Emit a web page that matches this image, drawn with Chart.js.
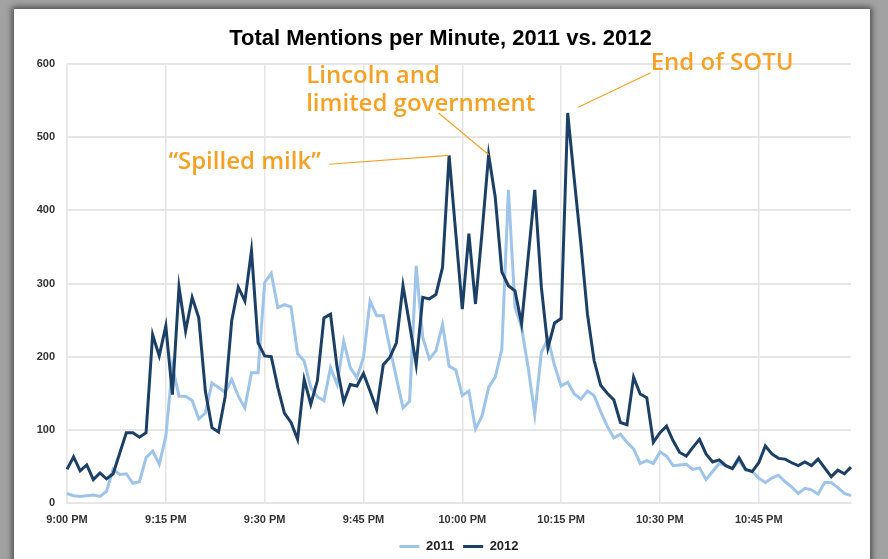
<!DOCTYPE html>
<html>
<head>
<meta charset="utf-8">
<script src="https://cdn.jsdelivr.net/npm/chart.js@4.4.1/dist/chart.umd.min.js"></script>
<style>
  html, body { margin: 0; padding: 0; width: 888px; height: 559px; overflow: hidden; background: #a2a2a2; }
  #card { position: absolute; left: 14px; top: 9px; width: 856px; height: 580px; background: #fff;
          box-shadow: 0 0 6px 2px rgba(0,0,0,0.55); }
  #wrap { position: absolute; left: 0; top: 0; width: 888px; height: 559px; }
</style>
</head>
<body>
<div id="card"></div>
<div id="wrap"><canvas id="chart" width="888" height="559"></canvas></div>
<script>
// Mentions per minute, 9:00 PM – 10:59 PM
const MENTIONS_2011 = [
  13, 10, 9, 10, 11, 9, 16, 46, 39, 40,
  27, 29, 62, 71, 53, 91, 187, 146, 146, 140,
  115, 123, 164, 158, 151, 169, 146, 130, 178, 178,
  301, 314, 267, 271, 268, 204, 194, 158, 145, 140,
  185, 162, 221, 185, 171, 199, 276, 256, 256, 212,
  171, 130, 139, 324, 226, 197, 208, 244, 187, 182,
  147, 153, 101, 119, 158, 172, 210, 428, 268, 240,
  185, 121, 206, 224, 188, 160, 165, 149, 142, 153,
  147, 125, 105, 89, 94, 83, 74, 54, 58, 54,
  70, 64, 51, 52, 53, 46, 48, 32, 43, 54,
  51, 47, 58, 45, 43, 34, 28, 34, 38, 29,
  22, 13, 20, 18, 12, 28, 28, 21, 13, 10
];
const MENTIONS_2012 = [
  46, 63, 44, 52, 32, 41, 33, 40, 68, 96,
  96, 90, 96, 230, 201, 242, 148, 295, 235, 281,
  253, 153, 103, 97, 145, 249, 295, 276, 345, 219,
  201, 200, 158, 123, 110, 87, 169, 135, 167, 253,
  258, 185, 138, 162, 160, 177, 153, 128, 189, 199,
  219, 297, 244, 189, 281, 279, 285, 322, 475, 370,
  265, 368, 272, 370, 476, 418, 316, 297, 290, 245,
  336, 428, 295, 212, 246, 252, 533, 442, 354, 258,
  195, 161, 150, 141, 110, 107, 172, 149, 144, 83,
  96, 105, 85, 69, 64, 76, 87, 67, 56, 59,
  51, 47, 62, 46, 43, 55, 78, 67, 61, 60,
  55, 51, 56, 51, 60, 48, 36, 45, 40, 49
];
const SERIES_NAMES = ['2011', '2012'];
const TICK_LABELS = ['9:00 PM', '9:15 PM', '9:30 PM', '9:45 PM', '10:00 PM', '10:15 PM', '10:30 PM', '10:45 PM'];
const Y_TICKS = [0, 100, 200, 300, 400, 500, 600];

// one category per minute
const MINUTES = MENTIONS_2012.map((_, m) => {
  const h = 9 + Math.floor(m / 60);
  const mm = String(m % 60).padStart(2, '0');
  return `${h}:${mm} PM`;
});

const COLOR_2011 = '#9ec4ea';
const COLOR_2012 = '#1c3f66';
const NOTE_COLOR = '#f6a124';
const GRID_COLOR = '#e6e6e6';

// callouts: text anchored in data units, leader from (fromX, fromY) to (toX, toY)
const NOTES = [
  { lines: ['\u201cSpilled milk\u201d'], textX: 15.4, textY: 466,
    fromX: 39.8, fromY: 463, toX: 58, toY: MENTIONS_2012[58] },
  { lines: ['Lincoln and', 'limited government'], textX: 36.3, textY: 583,
    fromX: 56.4, fromY: 533, toX: 64, toY: MENTIONS_2012[64] },
  { lines: ['End of SOTU'], textX: 88.6, textY: 601,
    fromX: 88.6, fromY: 588, toX: 77.6, toY: 541 }
];

const calloutPlugin = {
  id: 'callouts',
  afterDatasetsDraw(chart) {
    const { ctx, scales: { x, y } } = chart;
    ctx.save();
    ctx.font = '600 24px "Open Sans", sans-serif';
    ctx.fillStyle = NOTE_COLOR;
    ctx.strokeStyle = NOTE_COLOR;
    ctx.lineWidth = 1.2;
    ctx.textBaseline = 'middle';
    ctx.textAlign = 'left';
    NOTES.forEach(n => {
      const tx = x.getPixelForValue(n.textX);
      const ty = y.getPixelForValue(n.textY);
      n.lines.forEach((line, i) => ctx.fillText(line, tx, ty + i * 28));
      ctx.beginPath();
      ctx.moveTo(x.getPixelForValue(n.fromX), y.getPixelForValue(n.fromY));
      ctx.lineTo(x.getPixelForValue(n.toX), y.getPixelForValue(n.toY));
      ctx.stroke();
    });
    ctx.restore();
  }
};

const tickFont = { family: '"Liberation Sans", Arial, sans-serif', size: 11, weight: 'bold' };

new Chart(document.getElementById('chart'), {
  type: 'line',
  data: {
    labels: MINUTES,
    datasets: [
      { label: SERIES_NAMES[0], data: MENTIONS_2011, borderColor: COLOR_2011, backgroundColor: COLOR_2011,
        borderWidth: 3, pointRadius: 0, tension: 0, order: 1 },
      { label: SERIES_NAMES[1], data: MENTIONS_2012, borderColor: COLOR_2012, backgroundColor: COLOR_2012,
        borderWidth: 3, pointRadius: 0, tension: 0, order: 0 }
    ]
  },
  options: {
    responsive: false,
    animation: false,
    layout: { padding: { left: 30, right: 37, top: 0, bottom: -4 } },
    plugins: {
      title: {
        display: true,
        text: 'Total Mentions per Minute, 2011 vs. 2012',
        color: '#000',
        font: { family: '"Liberation Sans", Arial, sans-serif', size: 22, weight: 'bold', lineHeight: 1.2 },
        padding: { top: 26, bottom: 11.6 }
      },
      legend: {
        position: 'bottom',
        fullSize: false,
        labels: {
          usePointStyle: true,
          pointStyle: 'line',
          pointStyleWidth: 20,
          boxHeight: 13,
          color: '#222',
          padding: 9,
          font: { family: '"Liberation Sans", Arial, sans-serif', size: 13, weight: 'bold' },
          sort: (a, b) => a.datasetIndex - b.datasetIndex
        }
      },
      tooltip: { enabled: false }
    },
    scales: {
      x: {
        type: 'category',
        offset: false,
        afterFit: s => { s.height = 28; },
        grid: {
          drawTicks: false,
          lineWidth: 1.5,
          color: c => (TICK_LABELS.includes(MINUTES[c.index]) ? GRID_COLOR : 'rgba(0,0,0,0)')
        },
        border: { display: true, color: GRID_COLOR, width: 2 },
        ticks: {
          autoSkip: false,
          maxRotation: 0,
          padding: 10,
          color: '#333',
          font: tickFont,
          callback: (v, i) => (TICK_LABELS.includes(MINUTES[i]) ? MINUTES[i] : '')
        }
      },
      y: {
        min: Y_TICKS[0],
        max: Y_TICKS[Y_TICKS.length - 1],
        afterFit: s => { s.width = 37; },
        afterBuildTicks: s => { s.ticks = Y_TICKS.map(v => ({ value: v })); },
        grid: { drawTicks: false, color: GRID_COLOR, lineWidth: 2 },
        border: { display: true, color: GRID_COLOR, width: 1.5 },
        ticks: { padding: 12, color: '#333', font: tickFont }
      }
    }
  },
  plugins: [calloutPlugin]
});
</script>
</body>
</html>
